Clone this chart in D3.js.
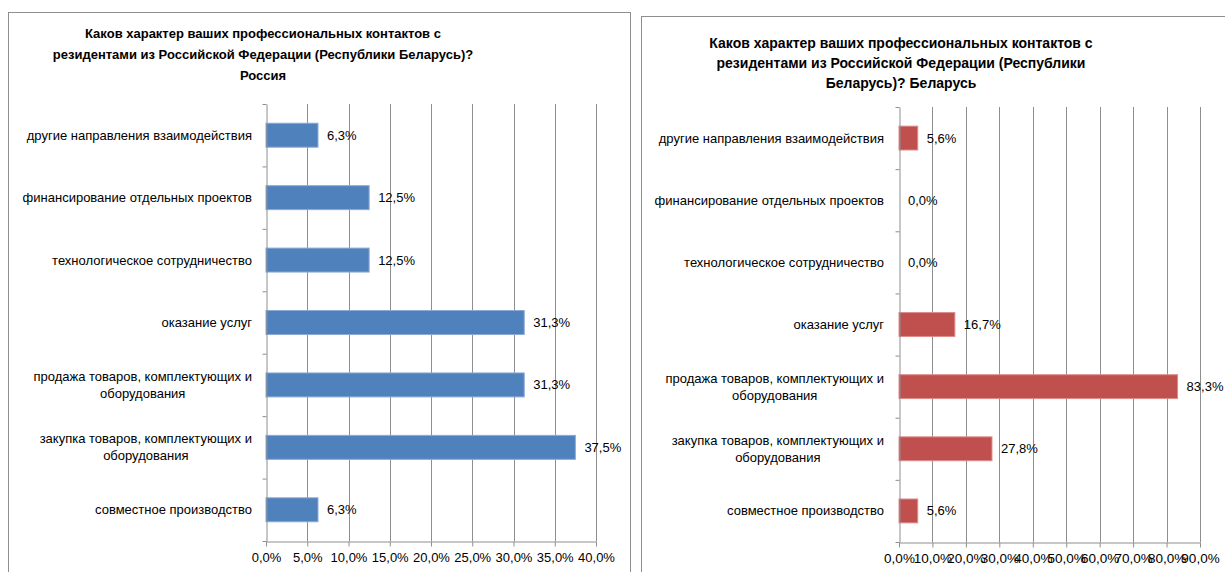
<!DOCTYPE html>
<html>
<head>
<meta charset="utf-8">
<script src="https://cdn.jsdelivr.net/npm/d3@7"></script>
<style>
  body { margin: 0; background: #fff; }
  svg { display: block; font-family: "Liberation Sans", Arial, sans-serif; }
</style>
</head>
<body>
<div id="chart"></div>
<script>
const width = 1225, height = 572;

// categories from top to bottom, "\n" marks the line break seen in the picture
const categories = [
    "другие направления взаимодействия",
    "финансирование отдельных проектов",
    "технологическое сотрудничество",
    "оказание услуг",
    "продажа товаров, комплектующих и\nоборудования",
    "закупка товаров, комплектующих и\nоборудования",
    "совместное производство"
];
const russiaValues = [6.3, 12.5, 12.5, 31.3, 31.3, 37.5, 6.3];
const belarusValues = [5.6, 0.0, 0.0, 16.7, 83.3, 27.8, 5.6];

const russiaTicks = [0, 5, 10, 15, 20, 25, 30, 35, 40];
const belarusTicks = [0, 10, 20, 30, 40, 50, 60, 70, 80, 90];

const russiaTitle = [
    "Каков характер ваших профессиональных контактов с",
    "резидентами из Российской Федерации (Республики Беларусь)?",
    "Россия"
];
const belarusTitle = [
    "Каков характер ваших профессиональных контактов с",
    "резидентами из Российской Федерации (Республики",
    "Беларусь)? Беларусь"
];

const fmt = d => d.toFixed(1).replace(".", ",") + "%";

const svg = d3.select("#chart")
    .append("svg")
    .attr("width", width)
    .attr("height", height);

function drawPanel(p) {
    const g = svg.append("g");

    // chart frame
    g.append("rect")
        .attr("x", p.frame[0] + 0.5)
        .attr("y", p.frame[1] + 0.5)
        .attr("width", p.frame[2])
        .attr("height", p.frame[3])
        .attr("fill", "#fff")
        .attr("stroke", "#8e8e8e");

    // title
    g.selectAll(".title")
        .data(p.title)
        .join("text")
        .attr("class", "title")
        .attr("x", p.titleX)
        .attr("y", (d, i) => p.titleY + i * p.titleStep)
        .attr("text-anchor", "middle")
        .attr("font-weight", "bold")
        .attr("font-size", p.titleSize)
        .text(d => d);

    const xScale = d3.scaleLinear()
        .domain([0, d3.max(p.ticks)])
        .range([p.left, p.right]);

    const pad = 1 - 24 / 62.5;
    const yScale = d3.scaleBand()
        .domain(categories)
        .range([p.top, p.bottom])
        .paddingInner(pad)
        .paddingOuter(pad / 2);

    // vertical gridlines
    g.selectAll(".grid")
        .data(p.ticks.slice(1))
        .join("line")
        .attr("class", "grid")
        .attr("x1", d => Math.round(xScale(d)) + 0.5)
        .attr("x2", d => Math.round(xScale(d)) + 0.5)
        .attr("y1", p.top)
        .attr("y2", p.bottom)
        .attr("stroke", "#8e8e8e");

    // bars
    g.selectAll(".bar")
        .data(p.values)
        .join("rect")
        .attr("class", "bar")
        .attr("x", xScale(0))
        .attr("y", (d, i) => yScale(categories[i]))
        .attr("width", d => xScale(d) - xScale(0))
        .attr("height", yScale.bandwidth())
        .attr("fill", p.color)
        .attr("stroke", d => d > 0 ? p.edge : "none")
        .attr("stroke-width", 1);

    // value labels
    g.selectAll(".val")
        .data(p.values)
        .join("text")
        .attr("class", "val")
        .attr("x", d => xScale(d) + 9)
        .attr("y", (d, i) => yScale(categories[i]) + yScale.bandwidth() / 2 + 4.5)
        .attr("font-size", 13)
        .text(fmt);

    // bottom axis
    const xAxis = d3.axisBottom(xScale)
        .tickValues(p.ticks)
        .tickSize(5)
        .tickSizeOuter(0)
        .tickFormat(fmt);

    const xg = g.append("g")
        .attr("transform", `translate(0, ${p.bottom + 0.5})`)
        .call(xAxis);
    xg.select(".domain").attr("stroke", "#8e8e8e");
    xg.selectAll(".tick line").attr("stroke", "#8e8e8e");
    xg.selectAll(".tick text")
        .attr("y", 20)
        .attr("dy", 0)
        .attr("fill", "#000")
        .attr("font-size", p.tickSize)
        .attr("font-family", "Liberation Sans, Arial, sans-serif");

    // left axis with ticks between categories
    const yIdx = d3.scaleLinear()
        .domain([0, categories.length])
        .range([p.top, p.bottom]);
    const yAxis = d3.axisLeft(yIdx)
        .tickValues(d3.range(categories.length + 1))
        .tickSize(4)
        .tickSizeOuter(0)
        .tickFormat("");
    const yg = g.append("g")
        .attr("transform", `translate(${p.left + 0.5}, 0)`)
        .call(yAxis);
    yg.select(".domain").attr("stroke", "#8e8e8e");
    yg.selectAll(".tick line").attr("stroke", "#8e8e8e");

    // category labels: block right aligned, lines centred inside it
    categories.forEach(c => {
        const lines = c.split("\n");
        const cy = yScale(c) + yScale.bandwidth() / 2;
        const t = g.append("text")
            .attr("font-size", 13)
            .attr("text-anchor", "middle");
        const spans = lines.map((l, i) => t.append("tspan")
            .attr("y", cy + 4.5 + (i - (lines.length - 1) / 2) * 17)
            .text(l));
        const w = d3.max(spans, s => s.node().getComputedTextLength());
        spans.forEach(s => s.attr("x", p.labelRight - w / 2));
    });
}

drawPanel({
    frame: [8, 12, 622, 620],
    title: russiaTitle, titleX: 263, titleY: 38, titleStep: 21, titleSize: 13,
    values: russiaValues, ticks: russiaTicks,
    left: 266, right: 596, top: 104, bottom: 541,
    labelRight: 252, tickSize: 13,
    color: "#4f81bd", edge: "#8eaad6"
});

drawPanel({
    frame: [641, 16, 620, 620],
    title: belarusTitle, titleX: 901, titleY: 48, titleStep: 20, titleSize: 14,
    values: belarusValues, ticks: belarusTicks,
    left: 899, right: 1200, top: 107, bottom: 542,
    labelRight: 884, tickSize: 13.5,
    color: "#c0504d", edge: "#dc8d8b"
});
</script>
</body>
</html>
